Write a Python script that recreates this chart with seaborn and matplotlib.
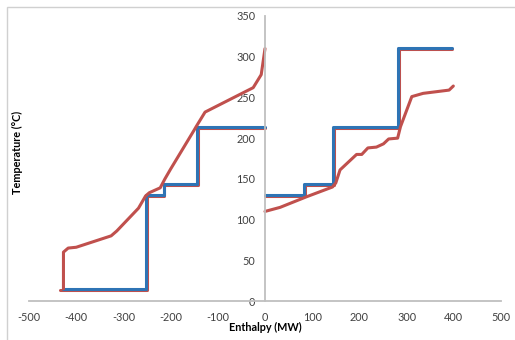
import matplotlib
matplotlib.use("Agg")
import matplotlib.pyplot as plt
import seaborn as sns
import pandas as pd
from matplotlib.patches import Rectangle

# ---- data ----
left_step_x = [-428, -252, -252, -215, -215, -145, -145, 0]
left_step_y = [15, 15, 130, 130, 144, 144, 214, 214]
left_step_red_x = [-434, -250, -250, -213, -213, -143, -143, 0]
left_step_red_y = [14, 14, 129, 129, 143, 143, 213, 213]

right_step_x = [0, 83, 83, 145, 145, 282, 282, 397]
right_step_y = [130, 130, 144, 144, 214, 214, 311, 311]
right_step_red_x = [0, 85, 85, 147, 147, 284, 284, 397]
right_step_red_y = [129, 129, 143, 143, 213, 213, 310, 310]

left_curve_x = [-427, -427, -417, -400, -326, -314, -268, -253, -245, -222,
                -212, -200, -150, -146, -127, -25, -8, 0]
left_curve_y = [15, 60, 65, 66, 80, 86, 114, 129, 133, 139,
                150, 162, 210, 214, 232, 262, 278, 310]

right_curve_x = [0, 32, 88, 143, 150, 159, 194, 205, 218, 236, 251, 262, 281,
                 287, 311, 335, 390, 399]
right_curve_y = [110, 115, 128, 140, 145, 161, 180, 180, 188, 189, 193, 199, 200,
                 214, 251, 255, 259, 264]

x_ticks = [-500, -400, -300, -200, -100, 0, 100, 200, 300, 400, 500]
y_ticks = [0, 50, 100, 150, 200, 250, 300, 350]

RED = "#c0504d"
BLUE = "#2e74b5"
GREY_AX = "#bfbfbf"
TXT = "#404040"

sns.set_style("white")
plt.rcParams["font.family"] = ["Lato", "DejaVu Sans"]

fig = plt.figure(figsize=(5.15, 3.4), dpi=100)
ax = fig.add_axes([29 / 515, 39 / 340, 472 / 515, 285 / 340])

def draw(xs, ys, color, lw=2.2):
    df = pd.DataFrame({"x": xs, "y": ys})
    sns.lineplot(data=df, x="x", y="y", sort=False, estimator=None,
                 color=color, linewidth=lw, ax=ax)

draw(left_step_red_x, left_step_red_y, RED)
draw(right_step_red_x, right_step_red_y, RED)
draw(left_step_x, left_step_y, BLUE)
draw(right_step_x, right_step_y, BLUE)
draw(left_curve_x, left_curve_y, RED)
draw(right_curve_x, right_curve_y, RED)

ax.set_xlim(-500, 500)
ax.set_ylim(0, 350)
ax.set_xticks(x_ticks)
ax.set_yticks(y_ticks)
ax.set_xticklabels([str(v) for v in x_ticks])
ax.set_yticklabels([str(v) for v in y_ticks])

ax.spines["left"].set_position(("data", 0))
ax.spines["top"].set_visible(False)
ax.spines["right"].set_visible(False)
for s in ("left", "bottom"):
    ax.spines[s].set_color(GREY_AX)
    ax.spines[s].set_linewidth(1.3)
ax.tick_params(axis="both", direction="out", length=4, width=1,
               color=GREY_AX, labelcolor=TXT, labelsize=7.8, pad=3)
ax.tick_params(axis="x", pad=4)

ax.set_xlabel("Enthalpy (MW)", fontsize=7.8, fontweight="bold", color="black")
ax.set_ylabel("Temperature (°C)", fontsize=7.8, fontweight="bold", color="black")
ax.xaxis.set_label_coords(0.5, -0.075)
ax.yaxis.set_label_coords(-0.012, 0.52)

fig.patches.append(Rectangle((7 / 515, -0.02), 1.0, 1 - 7 / 340 + 0.02,
                             transform=fig.transFigure, fill=False,
                             edgecolor="#d0d0d0", linewidth=1.0, zorder=0))

fig.savefig("out.png", dpi=100)
